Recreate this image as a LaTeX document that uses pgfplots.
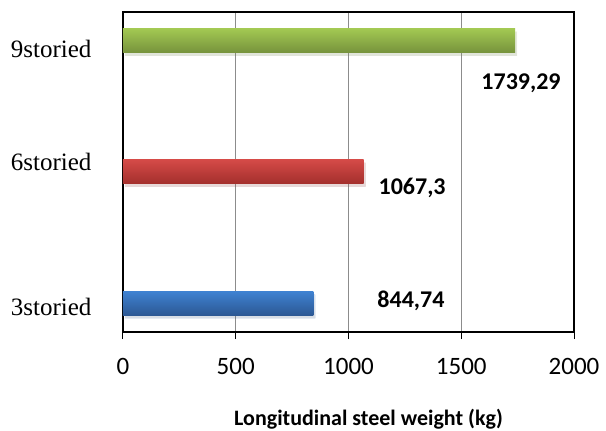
\documentclass[border=0pt]{standalone}
\usepackage{fontspec}
\setmainfont{Carlito}
\newfontfamily\serifl{Liberation Serif}
\usepackage{pgfplots}
\pgfplotsset{compat=1.18}
\usetikzlibrary{shadows}

\definecolor{gridgray}{HTML}{8C8C8C}
\definecolor{greentop}{HTML}{A2C852}
\definecolor{greenbot}{HTML}{76923C}
\definecolor{redtop}{HTML}{D44A47}
\definecolor{redbot}{HTML}{A32F2C}
\definecolor{bluetop}{HTML}{3F82D2}
\definecolor{bluebot}{HTML}{2C5894}

\begin{document}
\begin{tikzpicture}
\useasboundingbox (-123bp,-99bp) rectangle (483bp,332bp);
\begin{axis}[
    at={(0,0)}, anchor=south west,
    scale only axis,
    width=451bp, height=320bp,
    xbar, bar width=24bp, bar shift=0pt,
    xmin=0, xmax=2000,
    ymin=-0.22, ymax=2.22,
    xtick={0,500,1000,1500,2000},
    ytick={-0.03,1.076,1.94},
    yticklabels={3storied,6storied,9storied},
    xmajorgrids,
    major grid style={gridgray, line width=1.4bp},
    axis line style={black, line width=1.8bp},
    tick align=outside,
    xtick pos=bottom,
    major tick length=7bp,
    xtick style={black, line width=1bp},
    ytick style={draw=none},
    /pgf/number format/assume math mode=true,
    /pgf/number format/set thousands separator={},
    xticklabel style={font=\fontsize{25bp}{29bp}\selectfont, yshift=-16bp},
    yticklabel style={font=\serifl\fontsize{25bp}{29bp}\selectfont, xshift=-21bp},
    xlabel={Longitudinal steel weight (kg)},
    xlabel style={font=\bfseries\fontsize{22bp}{26bp}\selectfont, inner sep=0pt, xshift=20bp, yshift=-31bp},
]
\addplot[draw=none, top color=bluetop, bottom color=bluebot,
  drop shadow={shadow xshift=2bp, shadow yshift=-3bp, opacity=0.12}]
  coordinates {(844.74,0)};
\addplot[draw=none, top color=redtop, bottom color=redbot,
  drop shadow={shadow xshift=2bp, shadow yshift=-3bp, opacity=0.12}]
  coordinates {(1067.3,1)};
\addplot[draw=none, top color=greentop, bottom color=greenbot,
  drop shadow={shadow xshift=2bp, shadow yshift=-3bp, opacity=0.12}]
  coordinates {(1739.29,2)};
\node[font=\bfseries\fontsize{24bp}{28bp}\selectfont] at (axis cs:1277,0.015) {844,74};
\node[font=\bfseries\fontsize{24bp}{28bp}\selectfont] at (axis cs:1282,0.88) {1067,3};
\node[font=\bfseries\fontsize{24bp}{28bp}\selectfont] at (axis cs:1765,1.68) {1739,29};
\end{axis}
\end{tikzpicture}
\end{document}
